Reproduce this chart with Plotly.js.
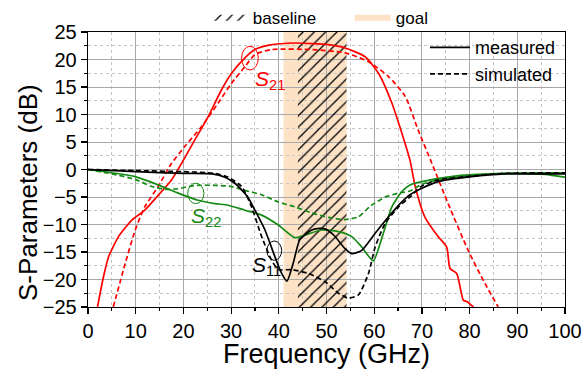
<!DOCTYPE html>
<html>
<head>
<meta charset="utf-8">
<script src="https://cdn.plot.ly/plotly-3.0.1.min.js"></script>
<style>
  html, body { margin: 0; padding: 0; background: #fff; }
  #chart { width: 583px; height: 369px; }
</style>
</head>
<body>
<div id="chart"></div>
<script>
// S21 (transmission), measured and simulated
const s21MeasFreq = [2.0, 3.0, 4.3, 6.4, 9.2, 11.9, 14.4, 17.5, 19.6, 22.4, 25.2, 28.0, 30.1, 32.9, 35.0, 38.0, 43.4, 50.4, 53.9, 58.1, 60.9, 63.7, 65.8, 67.5, 68.6, 70.6, 73.4, 75.2, 75.9, 77.3, 78.7, 79.4, 80.8];
const s21MeasDb   = [-25.0, -20.5, -15.9, -12.2, -9.2, -7.4, -5.0, -1.9, 1.1, 5.4, 9.6, 14.5, 17.5, 20.3, 21.8, 22.6, 23.0, 22.7, 22.1, 20.5, 17.5, 12.1, 6.6, 1.7, -3.1, -8.6, -12.2, -14.1, -18.0, -18.9, -23.8, -24.0, -25.0];
const s21SimFreq  = [5.3, 7.8, 9.9, 11.9, 14.7, 17.5, 20.3, 23.8, 27.3, 30.1, 32.9, 35.0, 38.5, 46.9, 53.9, 58.8, 63.0, 66.5, 69.2, 72.1, 75.5, 79.7, 83.2, 86.0];
const s21SimDb    = [-25.0, -17.1, -11.0, -6.8, -3.1, 1.1, 4.2, 7.8, 12.1, 15.7, 18.7, 20.9, 21.8, 21.8, 21.2, 19.6, 16.9, 13.3, 7.2, 1.1, -6.2, -14.7, -20.7, -25.0];

// S11 (input reflection)
const s11MeasFreq = [0, 10, 20, 26, 28.7, 30.8, 32.2, 33.5, 35.0, 37.1, 39.2, 40.6, 41.7, 43.0, 44.4, 46.9, 48.6, 49.7, 51.6, 53.9, 55.3, 57.4, 60.2, 63.0, 65.8, 67.5, 70.0, 73.4, 80.4, 87.4, 94.4, 100];
const s11MeasDb   = [0, -0.4, -0.7, -0.8, -1.4, -2.5, -3.7, -5.0, -7.4, -11.0, -15.9, -18.9, -20.3, -17.1, -12.8, -11.0, -10.7, -10.8, -12.0, -14.4, -15.3, -14.7, -11.6, -8.6, -5.9, -4.6, -3.4, -2.2, -1.3, -0.8, -0.8, -0.8];
const s11SimFreq  = [0, 10, 20, 26.6, 29.4, 32.2, 34.3, 36.4, 38.5, 39.9, 42.7, 46.2, 49.7, 52.5, 54.6, 56.7, 58.8, 60.2, 62.3, 65.1, 67.5, 70.0, 73.4, 80.4, 87.4, 100];
const s11SimDb    = [0, -0.2, -0.4, -0.7, -1.4, -3.1, -6.8, -12.2, -16.5, -18.2, -18.2, -18.9, -20.4, -22.5, -23.4, -22.8, -18.9, -14.1, -9.8, -6.8, -5.0, -3.0, -1.9, -1.2, -0.7, -0.6];

// S22 (output reflection)
const s22MeasFreq = [0, 5, 9.9, 14.7, 18.9, 23.1, 26.6, 29.4, 32.9, 36.4, 39.9, 43.4, 45.5, 49.0, 52.5, 55.3, 57.4, 59.8, 61.7, 63.7, 65.8, 67.5, 70.0, 76.9, 83.9, 90.9, 95.8, 100];
const s22MeasDb   = [0, -0.6, -1.3, -2.8, -4.3, -5.6, -6.2, -6.5, -7.4, -8.3, -10.1, -12.4, -11.9, -11.0, -11.3, -12.2, -14.1, -16.6, -12.2, -6.8, -4.0, -2.8, -2.2, -1.2, -0.8, -0.7, -0.9, -1.4];
const s22SimFreq  = [0, 5, 9.9, 13.4, 16.1, 18.9, 22.4, 27.3, 30.1, 32.9, 36.4, 39.9, 43.4, 46.9, 50.4, 53.9, 56.7, 59.3, 62.3, 65.1, 67.5, 70.0, 73.4, 80.4, 87.4, 100];
const s22SimDb    = [0, -0.8, -1.8, -3.1, -3.6, -3.5, -2.9, -2.9, -3.1, -3.8, -4.6, -5.9, -6.8, -7.9, -8.7, -9.1, -8.6, -6.6, -5.0, -4.3, -3.9, -2.7, -1.9, -1.1, -0.7, -0.6];

// Frequency bands (GHz)
const goalBand = [41, 54.2];
const baselineBand = [44, 54.2];
const dbRange = [-25, 25];

const RED = '#ff0000';
const GREEN = '#168a16';
const BLACK = '#000000';
const PEACH = '#fde2c6';
const DASH = '5px,3px';

function curve(x, y, color, dashed) {
  return {
    x: x, y: y, type: 'scatter', mode: 'lines', showlegend: false, hoverinfo: 'skip',
    line: { color: color, width: 1.7, dash: dashed ? DASH : 'solid', shape: 'spline', smoothing: 0.6 }
  };
}

const traces = [
  // hatched baseline band
  {
    x: [baselineBand[0], baselineBand[1], baselineBand[1], baselineBand[0], baselineBand[0]],
    y: [dbRange[0], dbRange[0], dbRange[1], dbRange[1], dbRange[0]],
    type: 'scatter', mode: 'none', fill: 'toself', name: 'baseline', legend: 'legend2',
    fillcolor: 'rgba(0,0,0,0)',
    fillpattern: { shape: '/', fgcolor: '#000', bgcolor: 'rgba(0,0,0,0)', size: 8, solidity: 0.16 },
    hoverinfo: 'skip'
  },
  // legend entry for the goal band (band itself is a layout shape)
  {
    x: [null], y: [null], type: 'scatter', mode: 'none', fill: 'toself', name: 'goal', legend: 'legend2',
    fillcolor: PEACH, hoverinfo: 'skip'
  },
  curve(s21MeasFreq, s21MeasDb, RED, false),
  curve(s21SimFreq, s21SimDb, RED, true),
  curve(s22MeasFreq, s22MeasDb, GREEN, false),
  curve(s22SimFreq, s22SimDb, GREEN, true),
  curve(s11MeasFreq, s11MeasDb, BLACK, false),
  curve(s11SimFreq, s11SimDb, BLACK, true),
  { x: [null], y: [null], type: 'scatter', mode: 'lines', name: 'measured', line: { color: BLACK, width: 1.7 } },
  { x: [null], y: [null], type: 'scatter', mode: 'lines', name: 'simulated', line: { color: BLACK, width: 1.7, dash: DASH } }
];

const FONT = 'Liberation Sans, Arial, sans-serif';

function ellipse(x0, x1, y0, y1, color) {
  return { type: 'circle', xref: 'x', yref: 'y', x0: x0, x1: x1, y0: y0, y1: y1,
           line: { color: color, width: 1 }, fillcolor: 'rgba(0,0,0,0)' };
}

function label(x, y, sub, color) {
  return {
    x: x, y: y, xref: 'x', yref: 'y', xanchor: 'left', yanchor: 'middle', showarrow: false,
    text: '<i>S</i><sub>' + sub + '</sub>', font: { family: FONT, size: 21, color: color }
  };
}

const axisCommon = {
  showline: true, linecolor: BLACK, linewidth: 1.3, mirror: true,
  ticks: 'outside', ticklen: 6, tickwidth: 1.2, tickcolor: BLACK,
  showgrid: true, gridcolor: '#a8a8a8', gridwidth: 1, zeroline: false,
  tickfont: { family: FONT, size: 20, color: BLACK }
};

const layout = {
  width: 583, height: 369,
  margin: { l: 88, r: 18, t: 32, b: 62, autoexpand: false },
  paper_bgcolor: '#fff', plot_bgcolor: '#fff',
  font: { family: FONT, color: BLACK },
  xaxis: Object.assign({}, axisCommon, {
    range: [0, 100], dtick: 10, tick0: 0,
    minor: { dtick: 5, ticks: 'outside', ticklen: 3, tickcolor: BLACK, showgrid: true, gridcolor: '#c4c4c4', griddash: 'dot', gridwidth: 1 },
    title: { text: 'Frequency (GHz)', font: { family: FONT, size: 27, color: BLACK }, standoff: 6 }
  }),
  yaxis: Object.assign({}, axisCommon, {
    range: dbRange, dtick: 5, tick0: 0,
    minor: { dtick: 2.5, ticks: 'outside', ticklen: 3, tickcolor: BLACK, showgrid: true, gridcolor: '#c4c4c4', griddash: 'dot', gridwidth: 1 }
  }),
  legend: {
    x: 0.7065, y: 1.01, xanchor: 'left', yanchor: 'top',
    bgcolor: 'rgba(0,0,0,0)', borderwidth: 0,
    font: { family: FONT, size: 18, color: BLACK }, itemwidth: 40, tracegroupgap: 0
  },
  legend2: {
    orientation: 'h', x: 0.249, y: 1.05, xanchor: 'left', yanchor: 'middle',
    bgcolor: 'rgba(0,0,0,0)', borderwidth: 0,
    font: { family: FONT, size: 17, color: BLACK }, itemwidth: 36,
    entrywidth: 92, entrywidthmode: 'pixels'
  },
  shapes: [
    { type: 'rect', layer: 'below', xref: 'x', yref: 'y', x0: goalBand[0], x1: goalBand[1], y0: dbRange[0], y1: dbRange[1],
      fillcolor: PEACH, line: { width: 0 } },
    ellipse(32.2, 35.7, 18.1, 22.4, RED),
    ellipse(20.9, 24.3, -6.2, -2.5, GREEN),
    ellipse(37.5, 40.6, -16.5, -13.0, BLACK)
  ],
  annotations: [
    label(34.6, 16.3, '21', RED),
    label(21.2, -8.6, '22', GREEN),
    label(34.0, -17.6, '11', BLACK),
    {
      text: 'S-Parameters (dB)', textangle: -90, showarrow: false,
      xref: 'paper', yref: 'paper', x: -0.1258, y: 0.418, xanchor: 'center', yanchor: 'middle',
      font: { family: FONT, size: 26, color: BLACK }
    }
  ]
};

Plotly.newPlot('chart', traces, layout, { staticPlot: true, displayModeBar: false });
</script>
</body>
</html>
